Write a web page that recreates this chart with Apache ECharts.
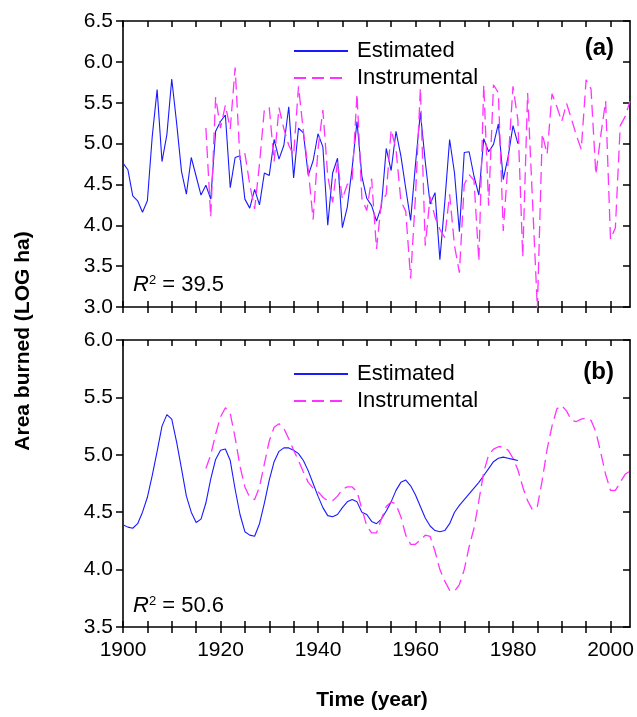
<!DOCTYPE html>
<html><head><meta charset="utf-8">
<script src="https://cdn.jsdelivr.net/npm/echarts@6/dist/echarts.min.js"></script>
<style>html,body{margin:0;padding:0;background:#fff}#c{width:637px;height:717px}</style>
</head><body><div id="c"></div>
<script>
// ---- data ----
const estStartYear = 1900;
const instStartYear = 1917;
const estAnnual = [4.76,4.68,4.36,4.30,4.16,4.30,5.09,5.66,4.78,5.11,5.79,5.25,4.66,4.38,4.83,4.60,4.37,4.49,4.32,5.15,
  5.27,5.35,4.46,4.83,4.85,4.32,4.21,4.44,4.25,4.64,4.61,5.05,4.81,4.98,5.45,4.58,5.19,5.13,4.61,4.79,
  5.12,4.96,4.00,4.64,4.82,3.97,4.22,4.70,5.27,4.60,4.33,4.24,4.05,4.23,4.94,4.67,5.15,4.85,4.45,4.06,
  4.75,5.38,4.78,4.26,4.40,3.58,4.28,5.05,4.64,3.92,4.89,4.90,4.60,4.37,5.06,4.90,4.99,5.24,4.56,4.84,
  5.22,5.00];
const instAnnual = [5.19,4.10,5.57,5.19,5.47,5.18,5.93,4.80,4.88,4.50,4.20,4.75,5.42,5.44,4.78,5.44,5.18,4.98,4.86,5.70,
  5.15,4.68,4.07,4.93,5.41,4.60,4.28,4.78,4.32,4.50,4.54,5.61,4.33,4.18,4.57,3.71,4.28,4.38,5.17,4.93,
  4.30,4.17,3.35,4.36,5.68,3.75,4.35,4.10,3.95,3.85,4.38,3.75,3.42,4.50,4.62,4.55,3.56,5.72,4.24,5.72,
  5.62,3.93,4.78,5.70,5.29,3.61,5.62,4.30,2.98,5.12,4.87,5.61,5.45,5.27,5.49,5.30,5.10,4.93,5.78,5.67,
  4.62,5.10,5.52,3.83,3.97,5.22,5.33,5.52];
const estSmooth = [4.39,4.37,4.36,4.40,4.50,4.63,4.82,5.03,5.25,5.35,5.31,5.11,4.88,4.64,4.50,4.41,4.44,4.58,4.79,4.96,
  5.04,5.05,4.95,4.70,4.48,4.33,4.30,4.29,4.40,4.58,4.78,4.94,5.03,5.06,5.06,5.04,5.01,4.95,4.86,4.75,
  4.64,4.54,4.47,4.46,4.48,4.54,4.59,4.61,4.59,4.50,4.48,4.42,4.40,4.44,4.51,4.59,4.69,4.76,4.78,4.73,
  4.65,4.55,4.45,4.38,4.34,4.33,4.34,4.40,4.50,4.56,4.61,4.66,4.71,4.76,4.82,4.88,4.94,4.97,4.98,4.97,
  4.96,4.95];
const instSmooth = [4.88,5.00,5.18,5.33,5.41,5.36,5.15,4.90,4.72,4.63,4.61,4.72,4.92,5.12,5.24,5.27,5.23,5.14,5.04,4.95,
  4.85,4.76,4.71,4.68,4.63,4.60,4.60,4.64,4.70,4.72,4.72,4.68,4.53,4.38,4.32,4.32,4.44,4.55,4.59,4.57,
  4.46,4.30,4.22,4.22,4.26,4.30,4.29,4.16,4.00,3.90,3.82,3.81,3.87,4.00,4.20,4.36,4.60,4.85,5.00,5.05,
  5.07,5.07,5.04,4.97,4.87,4.72,4.60,4.52,4.55,4.78,5.05,5.25,5.40,5.43,5.38,5.30,5.29,5.31,5.32,5.30,
  5.20,5.02,4.83,4.69,4.69,4.76,4.83,4.86];
const xTicks = [1900,1905,1910,1915,1920,1925,1930,1935,1940,1945,1950,1955,1960,1965,1970,1975,1980,1985,1990,1995,2000];
const xLabels = [1900,1920,1940,1960,1980,2000];
const yTicksTop = [3.0,3.5,4.0,4.5,5.0,5.5,6.0,6.5];
const yTicksBottom = [3.5,4.0,4.5,5.0,5.5,6.0];
const seriesNames = ['Estimated','Instrumental'];
const panelLabels = ['(a)','(b)'];
const r2Values = ['39.5','50.6'];

// ---- build ----
const pairs = (start, arr) => arr.map((v, i) => [start + i, v]);
const FONT = 'Liberation Sans, Arial, sans-serif';
const black = '#000';
const lineS = {show:true, onZero:false, lineStyle:{color:black, width:1.6}};
function xAx(grid, pos, inside, opts) {
  return {
    type:'value', gridIndex:grid, position:pos, min:1900, max:2004,
    axisLine: opts.line ? lineS : {show:false},
    axisTick:{show:true, inside:inside, length:6, customValues:xTicks, lineStyle:{color:black,width:1.5}},
    axisLabel:{show:!!opts.labels, customValues:xLabels, margin:13, color:'#000', fontSize:21, fontFamily:FONT,
      formatter:v=>String(v)},
    splitLine:{show:false}
  };
}
function yAx(grid, pos, inside, ticks, labels) {
  return {
    type:'value', gridIndex:grid, position:pos, min:ticks[0], max:ticks[ticks.length-1],
    axisLine: lineS,
    axisTick:{show:true, inside:inside, length:7, customValues:ticks, lineStyle:{color:black,width:1.5}},
    axisLabel:{show:labels, customValues:ticks, margin:10, color:'#000', fontSize:21, fontFamily:FONT,
      formatter:v=>v.toFixed(1)},
    splitLine:{show:false}
  };
}
const blue = '#1a1aff', mag = '#ff33ff';
function ser(name, xi, yi, data, dashed) {
  return {type:'line', name:name, xAxisIndex:xi, yAxisIndex:yi, data:data, symbol:'none',
    clip:true, silent:true, animation:false,
    lineStyle: dashed ? {color:mag, width:1.3, type:[12,6]} : {color:blue, width:1.1},
    itemStyle:{color: dashed ? mag : blue}};
}
function legend(top) {
  return {orient:'vertical', left:288, top:top, itemWidth:54, itemHeight:14, itemGap:5,
    data:seriesNames, selectedMode:false,
    itemStyle:{opacity:0},
    textStyle:{fontSize:22, fontFamily:FONT, color:'#000', padding:[0,0,0,4]}};
}
function r2text(x, y, val) {
  return {type:'text', x:x, y:y, style:{text:'{i|R}{s|2}{t| = '+val+'}', fontFamily:FONT,
    textVerticalAlign:'middle',
    rich:{i:{fontStyle:'italic', fontSize:22, fontFamily:FONT, fill:'#000'},
          s:{fontSize:13, fontFamily:FONT, verticalAlign:'top', fill:'#000'},
          t:{fontSize:22, fontFamily:FONT, fill:'#000'}}}};
}
const option = {
  backgroundColor:'#fff', animation:false,
  grid:[{left:123, top:21, width:507, height:286},{left:123, top:340, width:507, height:287}],
  xAxis:[
    xAx(0,'bottom',false,{line:true}),
    xAx(0,'bottom',true,{line:false}),
    xAx(0,'top',true,{line:true}),
    xAx(1,'bottom',false,{line:true, labels:true}),
    xAx(1,'bottom',true,{line:false}),
    xAx(1,'top',true,{line:true})
  ],
  yAxis:[
    yAx(0,'left',false,yTicksTop,true),
    yAx(0,'right',true,yTicksTop,false),
    yAx(1,'left',false,yTicksBottom,true),
    yAx(1,'right',true,yTicksBottom,false)
  ],
  legend:[legend(35), legend(358)],
  series:[
    ser(seriesNames[0],0,0,pairs(estStartYear,estAnnual),false),
    ser(seriesNames[1],0,0,pairs(instStartYear,instAnnual),true),
    ser(seriesNames[0],3,2,pairs(estStartYear,estSmooth),false),
    ser(seriesNames[1],3,2,pairs(instStartYear,instSmooth),true)
  ],
  graphic:[
    {type:'text', x:23, y:341, rotation:Math.PI/2, style:{text:'Area burned (LOG ha)', fontSize:21, fontWeight:'bold', fontFamily:FONT, fill:'#000', textAlign:'center', textVerticalAlign:'middle'}},
    {type:'text', x:372, y:700, style:{text:'Time (year)', fontSize:21, fontWeight:'bold', fontFamily:FONT, fill:'#000', textAlign:'center', textVerticalAlign:'middle'}},
    {type:'text', x:614, y:48, style:{text:panelLabels[0], fontSize:24, fontWeight:'bold', fontFamily:FONT, fill:'#000', textAlign:'right', textVerticalAlign:'middle'}},
    {type:'text', x:614, y:372, style:{text:panelLabels[1], fontSize:24, fontWeight:'bold', fontFamily:FONT, fill:'#000', textAlign:'right', textVerticalAlign:'middle'}},
    r2text(133, 285, r2Values[0]),
    r2text(133, 606, r2Values[1])
  ]
};
const chart = echarts.init(document.getElementById('c'), null, {renderer:'canvas'});
chart.setOption(option);
</script></body></html>
